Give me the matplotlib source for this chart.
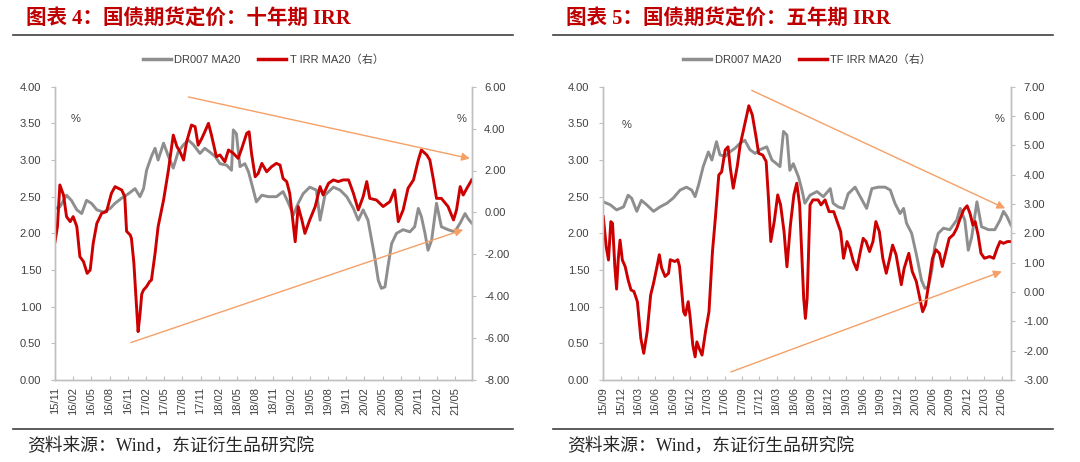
import matplotlib
matplotlib.use("Agg")
import matplotlib.pyplot as plt
from matplotlib.lines import Line2D

plt.rcParams["font.family"] = ["Liberation Sans", "Noto Sans CJK SC"]

# ---------------- data (months since first tick) ----------------
# Chart 4: ten-year, axis starts 2015/11
T10_LABELS = ["15/11", "16/02", "16/05", "16/08", "16/11", "17/02", "17/05", "17/08",
              "17/11", "18/02", "18/05", "18/08", "18/11", "19/02", "19/05", "19/08",
              "19/11", "20/02", "20/05", "20/08", "20/11", "21/02", "21/05"]
T10_XMAX = 68.7

T10_DR_M = [0, 0.8, 1.9, 2.7, 3.6, 4.4, 5.2, 6.0, 6.9, 8.0, 9.1, 9.9, 11.0, 12.1, 13.2,
            14.0, 14.6, 15.1, 15.9, 16.5, 17.0, 17.9, 18.7, 19.5, 20.3, 21.2, 22.0, 22.8,
            23.9, 24.7, 25.5, 26.4, 27.2, 28.3, 29.1, 29.4, 29.9, 30.5, 31.3, 31.9, 32.7,
            33.2, 34.1, 35.2, 36.5, 37.6, 38.5, 39.3, 40.1, 40.9, 42.0, 43.1, 43.7, 44.5,
            45.9, 47.0, 48.1, 49.2, 50.0, 50.8, 51.6, 52.2, 52.7, 53.3, 53.8, 54.4, 54.9,
            55.5, 56.3, 57.4, 58.5, 59.3, 59.9, 60.4, 61.0, 61.5, 62.1, 62.9, 63.7, 64.8,
            65.9, 66.8, 67.6, 68.1, 68.7]
T10_DR_V = [2.34, 2.36, 2.52, 2.45, 2.32, 2.27, 2.45, 2.41, 2.32, 2.29, 2.34, 2.41, 2.48,
            2.54, 2.61, 2.50, 2.61, 2.86, 3.05, 3.16, 3.00, 3.23, 3.05, 2.89, 3.11, 3.21,
            3.27, 3.21, 3.09, 3.16, 3.11, 3.05, 2.95, 2.93, 2.86, 3.41, 3.36, 2.91, 2.95,
            2.84, 2.59, 2.43, 2.52, 2.50, 2.50, 2.57, 2.41, 2.25, 2.41, 2.54, 2.63, 2.59,
            2.18, 2.52, 2.63, 2.59, 2.50, 2.34, 2.18, 2.32, 2.18, 1.91, 1.68, 1.36, 1.25,
            1.27, 1.55, 1.86, 2.00, 2.05, 2.02, 2.09, 2.34, 2.23, 2.00, 1.77, 1.91, 2.41,
            2.09, 2.05, 2.02, 2.14, 2.27, 2.20, 2.14]

T10_IRR_M = [0, 0.4, 0.8, 1.4, 1.9, 2.5, 3.0, 3.6, 4.1, 4.7, 5.3, 5.8, 6.3, 6.9, 7.7, 8.5,
             9.3, 9.9, 11.0, 11.5, 11.8, 12.4, 12.6, 13.0, 13.4, 13.7, 14.0, 14.3, 14.6,
             15.1, 15.6, 15.9, 16.5, 17.0, 17.9, 18.7, 19.5, 20.1, 20.6, 21.2, 21.7, 22.5,
             23.1, 23.6, 24.2, 24.7, 25.3, 25.8, 26.6, 27.2, 28.0, 28.6, 29.4, 30.2, 30.8,
             31.6, 32.0, 32.4, 33.0, 33.5, 34.1, 34.9, 35.7, 36.5, 37.1, 37.6, 38.2, 38.7,
             39.2, 39.6, 40.1, 40.7, 41.2, 42.0, 42.9, 43.7, 44.2, 45.1, 45.9, 46.7, 47.5,
             48.4, 49.2, 50.0, 50.8, 51.4, 51.9, 53.0, 54.1, 55.2, 56.0, 56.6, 57.4, 58.2,
             59.1, 59.9, 60.4, 61.3, 61.8, 62.4, 62.9, 63.7, 64.8, 65.7, 66.2, 66.8, 67.3,
             67.9, 68.7]
T10_IRR_V = [-1.40, -0.68, 1.31, 0.83, -0.20, -0.44, -0.20, -0.68, -2.11, -2.35, -2.91,
             -2.75, -1.47, -0.52, -0.04, 0.04, 0.91, 1.23, 1.07, 0.75, -0.90, -1.08, -1.24,
             -2.40, -4.30, -5.69, -4.90, -3.90, -3.70, -3.54, -3.30, -3.23, -1.95, -0.68,
             0.59, 2.02, 3.69, 3.14, 2.90, 2.50, 3.37, 4.17, 4.09, 3.21, 3.53, 3.85, 4.25,
             3.69, 2.66, 2.74, 2.42, 2.98, 2.82, 2.58, 3.06, 3.77, 3.85, 2.82, 1.70, 1.86,
             2.34, 1.94, 2.18, 2.34, 2.26, 1.62, 1.47, 0.91, -0.36, -1.40, 0.28, -0.36,
             -1.00, -0.36, 0.28, 1.23, 0.83, 1.39, 1.55, 1.47, 1.55, 1.55, 0.91, 0.12, 0.75,
             1.47, 0.67, 0.59, 0.28, 0.51, 1.07, -0.44, 0.12, 1.15, 1.55, 2.50, 2.98, 2.74,
             2.50, 1.55, 0.67, 0.67, 0.28, -0.36, 0.12, 1.23, 0.83, 1.15, 1.55]

# Chart 5: five-year, axis starts 2015/09
T5_LABELS = ["15/09", "15/12", "16/03", "16/06", "16/09", "16/12", "17/03", "17/06",
             "17/09", "17/12", "18/03", "18/06", "18/09", "18/12", "19/03", "19/06",
             "19/09", "19/12", "20/03", "20/06", "20/09", "20/12", "21/03", "21/06"]
T5_XMAX = 70.6

T5_DR_M = [0, 1.2, 2.3, 3.5, 4.3, 4.9, 5.8, 6.6, 7.5, 8.7, 9.8, 11.0, 12.1, 13.3, 14.4,
           15.3, 15.9, 16.5, 17.3, 18.2, 18.8, 19.6, 20.2, 21.1, 21.9, 22.8, 23.7, 24.5,
           25.4, 26.3, 27.1, 28.3, 29.2, 30.0, 30.6, 31.2, 31.8, 32.3, 32.9, 33.8, 34.4,
           34.9, 35.8, 37.0, 38.1, 39.3, 39.8, 40.7, 41.6, 42.4, 43.6, 44.5, 45.6, 46.5,
           47.6, 48.8, 49.7, 50.5, 51.4, 52.0, 52.5, 53.4, 54.3, 55.1, 55.7, 56.3, 56.9,
           57.4, 58.0, 58.9, 60.0, 61.2, 61.8, 62.6, 63.2, 63.8, 64.7, 65.5, 66.7, 67.8,
           68.7, 69.3, 69.9, 70.6]
T5_DR_V = [2.43, 2.39, 2.32, 2.36, 2.52, 2.48, 2.30, 2.45, 2.39, 2.30, 2.36, 2.41, 2.48,
           2.59, 2.63, 2.59, 2.50, 2.66, 2.91, 3.11, 3.00, 3.25, 3.07, 3.05, 3.11, 3.16,
           3.23, 3.27, 3.14, 3.09, 3.14, 3.18, 3.00, 2.95, 2.91, 3.39, 3.34, 2.86, 2.95,
           2.77, 2.59, 2.41, 2.52, 2.57, 2.50, 2.61, 2.41, 2.36, 2.34, 2.54, 2.63, 2.50,
           2.34, 2.61, 2.63, 2.63, 2.59, 2.41, 2.27, 2.34, 2.14, 2.00, 1.68, 1.36, 1.25,
           1.27, 1.50, 1.82, 2.00, 2.07, 2.05, 2.18, 2.34, 2.18, 1.77, 1.95, 2.43, 2.09,
           2.05, 2.05, 2.18, 2.30, 2.23, 2.11]

T5_IRR_M = [0, 0.5, 0.9, 1.3, 1.6, 2.0, 2.3, 2.6, 2.9, 3.3, 3.8, 4.3, 4.8, 5.3, 5.9, 6.5,
            7.0, 7.6, 8.2, 8.7, 9.3, 9.7, 10.1, 10.7, 11.3, 11.6, 12.4, 12.9, 13.2, 13.9,
            14.2, 14.7, 15.0, 15.5, 15.9, 16.2, 16.6, 17.1, 17.4, 17.7, 18.3, 18.9, 19.4,
            20.0, 20.5, 21.1, 21.6, 22.0, 22.5, 23.2, 23.7, 24.6, 25.2, 25.8, 26.4, 26.9,
            27.6, 28.2, 28.6, 29.0, 29.6, 30.2, 30.7, 31.3, 31.8, 32.4, 33.0, 33.5, 34.0,
            34.4, 34.7, 35.0, 35.3, 35.8, 36.3, 37.2, 37.7, 38.4, 39.1, 39.9, 40.5, 41.1,
            41.6, 42.2, 42.7, 43.3, 43.9, 44.4, 45.0, 45.5, 46.1, 46.7, 47.2, 47.8, 48.4,
            49.0, 49.6, 50.1, 50.7, 51.6, 52.1, 52.9, 53.5, 54.2, 54.8, 55.3, 55.8, 56.4,
            57.0, 57.6, 58.2, 58.7, 59.2, 59.9, 60.6, 61.2, 61.8, 62.4, 63.0, 63.5, 64.0,
            64.4, 64.9, 65.4, 66.0, 66.9, 67.6, 68.2, 68.7, 69.3, 70.0, 70.6]
T5_IRR_V = [2.57, 1.54, 1.09, 2.40, 2.34, 0.86, 0.10, 1.15, 1.77, 1.09, 0.86, 0.41, 0.07,
            0.02, -0.33, -1.58, -2.09, -1.35, -0.10, 0.30, 0.87, 1.27, 0.82, 0.53, 0.64,
            1.10, 1.04, 1.10, 0.87, -0.67, -0.79, -0.33, -0.79, -1.81, -2.21, -1.70, -1.92,
            -2.15, -1.75, -1.35, -0.67, 1.37, 2.51, 3.99, 4.10, 4.84, 4.95, 4.22, 3.54,
            4.29, 5.01, 5.81, 6.35, 6.04, 5.35, 4.73, 4.67, 4.45, 3.20, 1.72, 2.40, 3.31,
            2.97, 2.06, 0.86, 2.28, 3.31, 3.71, 2.97, 1.15, -0.21, -0.90, -0.21, 2.97, 3.14,
            3.14, 2.97, 3.14, 2.74, 2.74, 2.40, 2.06, 1.15, 1.72, 1.49, 1.04, 0.76, 1.27,
            1.83, 1.72, 1.38, 1.72, 2.40, 2.06, 1.15, 0.64, 1.15, 1.60, 1.27, 0.25, 0.81,
            1.32, 0.70, 0.36, -0.21, -0.67, -0.44, 0.36, 1.15, 1.44, 1.32, 0.87, 1.27, 1.83,
            1.95, 2.17, 2.51, 2.80, 2.94, 2.68, 2.28, 2.40, 1.95, 1.32, 1.15, 1.21, 1.15,
            1.49, 1.72, 1.66, 1.72, 1.72]

GRAY = "#8E8E8E"
RED = "#CC0000"
TITLE_RED = "#C00000"
ARROW = "#F4A067"
SPINE = "#BFBFBF"
TXT = "#404040"
W, H = 1080, 462


def fx(px):
    return px / W


def fy(py):
    return 1 - py / H


def draw_panel(fig, left_px, right_px, title, irr_name, labels, xmax,
               dr_m, dr_v, irr_m, irr_v, r_lim, r_step, arrows, pct_pos, x0):
    top_px, bot_px = 86.7, 380
    ax = fig.add_axes([fx(left_px), fy(bot_px), (right_px - left_px) / W, (bot_px - top_px) / H])
    ax2 = ax.twinx()

    ax.plot(dr_m, dr_v, color=GRAY, lw=2.1, solid_joinstyle="round")
    ax2.plot(irr_m, irr_v, color=RED, lw=2.1, solid_joinstyle="round")

    ax.set_xlim(0, xmax)
    ax.set_ylim(0, 4)
    ax2.set_ylim(*r_lim)
    ax.set_yticks([i * 0.5 for i in range(9)])
    ax.set_yticklabels([f"{i * 0.5:.2f}" for i in range(9)])
    n = int(round((r_lim[1] - r_lim[0]) / r_step))
    rt = [r_lim[0] + i * r_step for i in range(n + 1)]
    ax2.set_yticks(rt)
    ax2.set_yticklabels([f"{v:.2f}" for v in rt])
    ax.set_xticks([3 * i for i in range(len(labels))])
    ax.set_xticklabels(labels, rotation=90)

    for a in (ax, ax2):
        a.spines["top"].set_visible(False)
        for s in ("left", "right", "bottom"):
            a.spines[s].set_color(SPINE)
            a.spines[s].set_linewidth(1.0)
    ax.tick_params(axis="y", direction="out", length=3, color=SPINE, labelsize=8,
                   labelcolor=TXT, pad=7)
    ax2.tick_params(axis="y", direction="out", length=3, color=SPINE, labelsize=8,
                    labelcolor=TXT, pad=6)
    ax.tick_params(axis="x", direction="in", length=3, color=SPINE, labelsize=8,
                   labelcolor=TXT, pad=5)

    ax.text(pct_pos[0], pct_pos[1], "%", transform=ax.transAxes, fontsize=8, color=TXT)
    ax.text(pct_pos[2], pct_pos[3], "%", transform=ax.transAxes, fontsize=8, color=TXT)

    for (m0, v0), (m1, v1) in arrows:
        ax2.annotate("", xy=(m1, v1), xytext=(m0, v0), xycoords=ax.transData,
                     textcoords=ax.transData,
                     arrowprops=dict(arrowstyle="-|>", color=ARROW, lw=1.0,
                                     mutation_scale=12, shrinkA=0, shrinkB=0))

    handles = [Line2D([], [], color=GRAY, lw=2.5), Line2D([], [], color=RED, lw=2.5)]
    ax.legend(handles, ["DR007 MA20", irr_name], loc="center", bbox_to_anchor=(0.5, 1.091),
              ncol=2, frameon=False, fontsize=8, handlelength=2.5, handletextpad=0.3,
              columnspacing=1.6, labelcolor=TXT)

    fig.text(fx(x0 + 13), fy(20), title, fontsize=14.8, fontweight="bold", color=TITLE_RED,
             family=["Liberation Serif", "Noto Sans CJK SC"], va="center", ha="left")
    fig.add_artist(Line2D([fx(x0), fx(x0 + 500)], [fy(35), fy(35)], color="#404040", lw=1.2))
    fig.add_artist(Line2D([fx(x0), fx(x0 + 500)], [fy(429.3), fy(429.3)], color="#404040", lw=1.2))
    fig.text(fx(x0 + 14), fy(446), "资料来源：Wind，东证衍生品研究院", fontsize=12.8,
             color="#262626", family=["Liberation Serif", "Noto Sans CJK SC"],
             va="center", ha="left")


fig = plt.figure(figsize=(10.8, 4.62), dpi=100)

draw_panel(fig, 55, 471.7, "图表 4：国债期货定价：十年期 IRR", "T IRR MA20（右）",
           T10_LABELS, T10_XMAX, T10_DR_M, T10_DR_V, T10_IRR_M, T10_IRR_V, (-8, 6), 2,
           [((22.0, 3.86), (68.4, 3.02)), ((12.5, 0.51), (67.3, 2.05))],
           (0.038, 0.88, 0.965, 0.88), 13)
draw_panel(fig, 603.3, 1011, "图表 5：国债期货定价：五年期 IRR", "TF IRR MA20（右）",
           T5_LABELS, T5_XMAX, T5_DR_M, T5_DR_V, T5_IRR_M, T5_IRR_V, (-3, 7), 1,
           [((25.7, 3.95), (69.6, 2.34)), ((22.1, 0.11), (69.0, 1.48))],
           (0.045, 0.86, 0.96, 0.88), 553)

fig.savefig("out.png", dpi=100)
